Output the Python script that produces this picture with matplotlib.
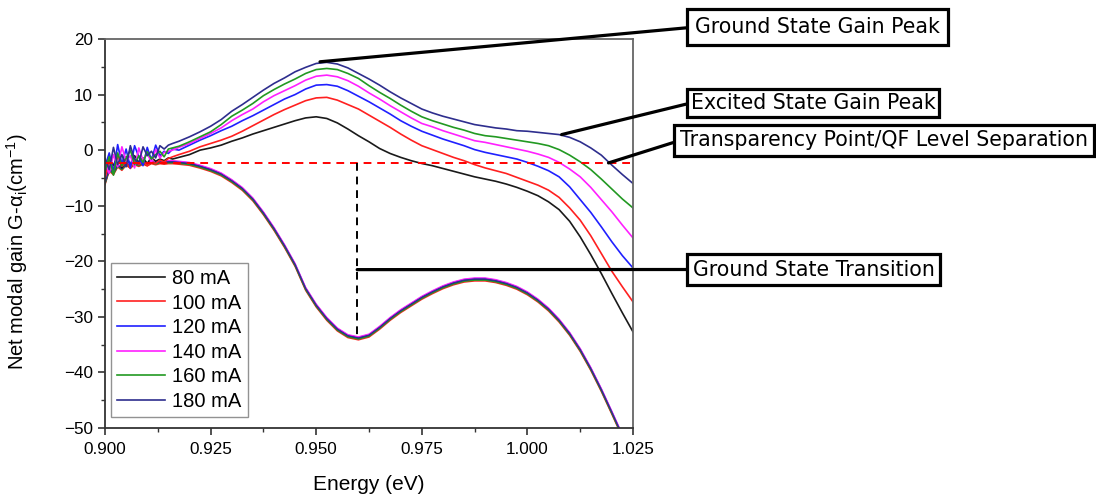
"""
    Net modal gain spectra vs. current (gain / absorption) with annotations
"""
import numpy as np
import matplotlib.pyplot as plt
from matplotlib.ticker import MultipleLocator

plt.rcParams['font.family'] = ['Liberation Sans', 'DejaVu Sans']
plt.rcParams['mathtext.fontset'] = 'custom'
plt.rcParams['mathtext.rm'] = 'Liberation Sans'
plt.rcParams['mathtext.it'] = 'Liberation Sans:italic'

# energy grid (eV): fine steps in the noisy low-energy part, then coarser
energy_noisy = np.round(np.arange(0.900, 0.9165, 0.001), 4)
energy_smooth = np.round(np.arange(0.9175, 1.0251, 0.0025), 4)
energy = np.concatenate([energy_noisy, energy_smooth])

currents = ['80 mA', '100 mA', '120 mA', '140 mA', '160 mA', '180 mA']
colors = ['#1a1a1a', '#ff2020', '#2020ff', '#ff20ff', '#229922', '#2e2e8e']

# net modal gain (cm^-1)
gain_80 = [-4.5, -1.5, -2.8, -0.8, -3.2, -1.2, -2.6, -1.0, -2.2, -1.4, -2.4, -1.3, -2.0, -1.6, -1.9, -1.4, -1.6,
           -1.3, -0.8, 0.0, 0.4, 0.9, 1.6, 2.2, 2.9, 3.5, 4.1, 4.7, 5.3, 5.8, 6.0, 5.7, 4.9, 3.8, 2.6, 1.5, 0.3,
           -0.6, -1.3, -1.9, -2.4, -2.8, -3.3, -3.8, -4.3, -4.8, -5.2, -5.6, -6.1, -6.7, -7.4, -8.2, -9.3,
           -10.7, -12.8, -15.6, -18.8, -22.2, -25.8, -29.3, -32.7]
gain_100 = [-5.0, -2.0, -3.5, -1.2, -2.9, -2.2, -3.3, -1.8, -2.6, -2.0, -2.8, -2.1, -2.4, -1.8, -2.1, -1.5, -1.2,
            -0.8, -0.2, 0.6, 1.2, 1.8, 2.5, 3.4, 4.4, 5.4, 6.4, 7.3, 8.1, 8.9, 9.4, 9.5, 9.0, 8.2, 7.4, 6.3, 5.2,
            4.1, 2.9, 1.8, 0.8, 0.1, -0.6, -1.3, -1.9, -2.6, -3.2, -3.7, -4.2, -4.9, -5.6, -6.3, -7.2,
            -8.5, -10.4, -12.6, -15.4, -18.6, -21.8, -24.6, -27.3]
gain_120 = [-3.0, -0.5, -4.0, 1.0, -2.5, 0.2, -3.2, 0.8, -1.2, -2.8, 0.5, -1.8, 0.9, -1.0, -0.2, -0.6, 0.2,
            0.0, 0.9, 1.8, 2.6, 3.5, 4.3, 5.3, 6.2, 7.2, 8.2, 9.2, 10.0, 11.0, 11.7, 11.8, 11.5, 10.7, 9.7, 8.7, 7.6,
            6.5, 5.3, 4.3, 3.4, 2.7, 2.0, 1.4, 0.8, 0.1, -0.4, -0.8, -1.2, -1.6, -2.2, -2.9, -3.7,
            -4.8, -6.6, -8.9, -11.2, -13.8, -16.5, -19.0, -21.2]
gain_140 = [-2.2, -4.2, -0.8, -3.0, 0.6, -2.0, -1.0, -3.2, 0.4, -1.8, -0.6, -2.2, 0.1, -1.4, -0.4, -0.2, 0.0,
            0.5, 1.2, 2.1, 3.0, 4.0, 5.3, 6.4, 7.4, 8.7, 9.8, 10.7, 11.6, 12.6, 13.3, 13.5, 13.2, 12.5, 11.5, 10.3, 9.2,
            8.0, 6.9, 5.8, 4.8, 4.2, 3.5, 2.9, 2.3, 1.7, 1.4, 1.0, 0.6, 0.2, -0.2, -0.7, -1.3,
            -2.2, -3.4, -4.8, -6.7, -8.9, -11.1, -13.5, -15.8]
gain_160 = [-3.8, -1.2, -4.5, -0.5, -2.8, -1.5, 0.0, -2.6, -1.0, -2.2, -0.3, -1.6, -0.8, -0.2, -1.2, 0.2, 0.4,
            0.7, 1.5, 2.4, 3.3, 4.6, 6.1, 7.2, 8.4, 9.8, 10.9, 11.9, 12.8, 13.8, 14.5, 14.7, 14.5, 13.8, 12.9, 11.6, 10.4,
            9.3, 8.1, 7.0, 6.0, 5.3, 4.7, 4.1, 3.6, 3.0, 2.6, 2.4, 2.1, 1.8, 1.5, 1.2, 0.8,
            0.1, -0.9, -2.1, -3.5, -5.2, -7.0, -8.8, -10.4]
gain_180 = [-1.5, -3.5, 0.5, -2.6, -0.8, -3.0, 0.8, -1.6, -2.4, 0.6, -1.0, -0.2, -1.4, 0.8, 0.2, 0.9, 1.2,
            1.6, 2.4, 3.3, 4.3, 5.5, 7.0, 8.2, 9.5, 10.8, 12.0, 13.0, 14.1, 14.9, 15.6, 15.8, 15.5, 14.8, 13.8, 12.8, 11.7,
            10.5, 9.4, 8.4, 7.4, 6.7, 6.1, 5.6, 5.1, 4.6, 4.3, 4.0, 3.8, 3.5, 3.4, 3.2, 3.0,
            2.8, 2.3, 1.5, 0.4, -0.9, -2.7, -4.4, -6.0]
gains = [gain_80, gain_100, gain_120, gain_140, gain_160, gain_180]

# absorption spectrum (same for all currents, tiny spread between traces)
absorption = [-6.0, -3.5, -4.2, -2.8, -3.4, -2.5, -3.0, -2.4, -2.7, -2.3, -2.6, -2.2, -2.4, -2.2, -2.3, -2.2, -2.2,
              -2.3, -2.5, -3.0, -3.6, -4.4, -5.6, -7.0, -8.9, -11.4, -14.2, -17.3, -20.7, -25.0, -28.0, -30.4, -32.3,
              -33.5, -33.9, -33.4, -32.0, -30.4, -29.0, -27.8, -26.6, -25.6, -24.7, -24.0, -23.5, -23.3, -23.3,
              -23.6, -24.1, -24.8, -25.8, -27.1, -28.7, -30.7, -33.1, -36.0, -39.4, -43.2, -47.3, -51.5, -56.0]
absorption_shift = [0.0, -0.25, 0.2, 0.3, -0.1, 0.1]

transparency = -2.3        # QF level separation / transparency level
gs_energy = 0.9597         # ground state transition
gs_abs = -33.9

fig = plt.figure(figsize=(10.96, 4.95), dpi=100)
ax = fig.add_axes([105 / 1096, 67 / 495, 528 / 1096, 389 / 495])

for col, shift in zip(colors, absorption_shift):
    ax.plot(energy, np.array(absorption) + shift, color=col, lw=1.0)

for g, col, lab in zip(gains, colors, currents):
    ax.plot(energy, g, color=col, lw=1.2, label=lab)

ax.plot([energy[0], 1.0245], [transparency, transparency], color='red', ls=(0, (4, 3)), lw=1.4)
ax.plot([gs_energy, gs_energy], [transparency, gs_abs], color='black', ls=(0, (4, 3)), lw=1.4)

ax.set_xlim(0.900, 1.025)
ax.set_ylim(-50, 20)
ax.xaxis.set_major_locator(MultipleLocator(0.025))
ax.xaxis.set_minor_locator(MultipleLocator(0.0125))
ax.yaxis.set_major_locator(MultipleLocator(10))
ax.yaxis.set_minor_locator(MultipleLocator(5))
ax.xaxis.set_major_formatter(plt.FormatStrFormatter('%.3f'))
ax.tick_params(which='both', direction='out', top=False, right=False, labelsize=12.3, color='#333333')
ax.tick_params(which='major', length=5, width=1.2)
ax.tick_params(axis='x', which='major', pad=5)
ax.tick_params(which='minor', length=3, width=1.0)
for s in ['left', 'bottom']:
    ax.spines[s].set_color('#333333')
    ax.spines[s].set_linewidth(1.3)
for s in ['top', 'right']:
    ax.spines[s].set_color('#666666')
    ax.spines[s].set_linewidth(1.3)

ax.set_xlabel('Energy (eV)', fontsize=15, labelpad=13)
ax.set_ylabel('Net modal gain G-α$_\\mathregular{i}$(cm$^\\mathregular{-1}$)', fontsize=14.5)
ax.yaxis.set_label_coords(-0.142, 0.452)

leg = ax.legend(loc='lower left', bbox_to_anchor=(0.011, 0.028), borderaxespad=0, fontsize=14.5,
                fancybox=False, edgecolor='#777777', handlelength=2.4, handletextpad=0.35,
                labelspacing=0.28, borderpad=0.3)
leg.get_frame().set_linewidth(1.0)

# annotations (boxes outside the plot)
W, H = 1096, 495
fs = 14.8
box_kw = dict(fontsize=fs, family='DejaVu Sans', ha='left', va='center', annotation_clip=False)
arrow_kw = dict(arrowstyle='-', lw=2.3, color='black', relpos=(0, 0.5), shrinkA=0, shrinkB=0)

notes = [
    ('Ground State Gain Peak', (0.9509, 15.9), (686, 27), 0.4),
    ('Excited State Gain Peak', (1.0081, 2.8), (686, 103), 0.18),
    ('Transparency Point/QF Level Separation', (1.0192, transparency), (673, 140.5), 0.28),
    ('Ground State Transition', (gs_energy, -21.5), (686, 269.5), 0.28),
]
for txt, xy, (bx, by), pad in notes:
    ax.annotate(txt, xy=xy, xycoords='data',
                xytext=((bx + pad * fs * 100 / 72 + 1) / W, 1 - by / H), textcoords='figure fraction',
                bbox=dict(boxstyle='square,pad=%s' % pad, fc='white', ec='black', lw=2.3),
                arrowprops=arrow_kw, **box_kw)

fig.savefig('out.png', dpi=100)
